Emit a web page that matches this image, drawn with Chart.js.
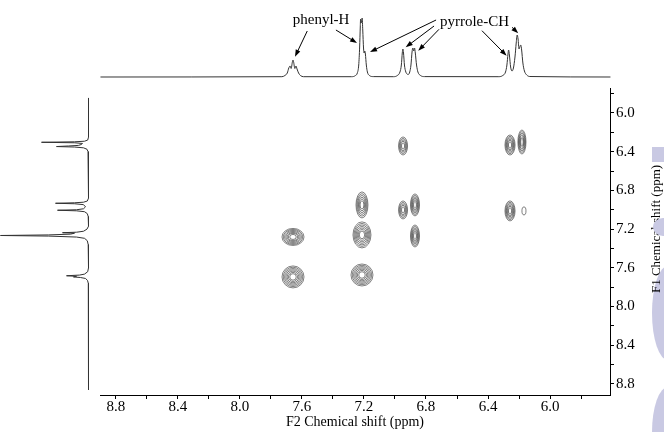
<!DOCTYPE html>
<html>
<head>
<meta charset="utf-8">
<script src="https://cdn.jsdelivr.net/npm/chart.js@4.4.1/dist/chart.umd.min.js"></script>
<style>
  html, body { margin: 0; padding: 0; background: #fff; }
  #wrap { position: relative; width: 664px; height: 432px; overflow: hidden; }
  canvas { position: absolute; left: 0; top: 0; }
</style>
</head>
<body>
<div id="wrap">
  <canvas id="main" width="664" height="432"></canvas>
  <canvas id="left" width="100" height="432"></canvas>
  <canvas id="top" width="664" height="88"></canvas>
</div>
<script>
// axis ticks
const F2_TICKS = [8.8, 8.6, 8.4, 8.2, 8.0, 7.8, 7.6, 7.4, 7.2, 7.0, 6.8, 6.6, 6.4, 6.2, 6.0, 5.8];
const F2_LABELS = ['8.8', '8.4', '8.0', '7.6', '7.2', '6.8', '6.4', '6.0'];
const F1_TICKS = [5.8, 6.0, 6.2, 6.4, 6.6, 6.8, 7.0, 7.2, 7.4, 7.6, 7.8, 8.0, 8.2, 8.4, 8.6, 8.8];
const F1_LABELS = ['6.0', '6.4', '6.8', '7.2', '7.6', '8.0', '8.4', '8.8'];

// top 1D spectrum (F2 ppm, intensity)
const topShift = [8.90, 7.73, 7.71, 7.695, 7.685, 7.677, 7.670, 7.662, 7.658, 7.654, 7.646, 7.639, 7.632, 7.622, 7.61, 7.59,
  7.28, 7.255, 7.243, 7.234, 7.228, 7.224, 7.222, 7.218, 7.215, 7.212, 7.208, 7.203, 7.199, 7.195, 7.191, 7.185, 7.178, 7.165, 7.14,
  7.01, 6.985, 6.968, 6.959, 6.953, 6.949, 6.945, 6.939, 6.930, 6.922, 6.915, 6.905, 6.897, 6.890, 6.885, 6.879, 6.874, 6.869, 6.861, 6.852, 6.835, 6.81,
  6.33, 6.305, 6.287, 6.278, 6.271, 6.267, 6.262, 6.254, 6.245, 6.236, 6.226, 6.218, 6.212, 6.206, 6.200, 6.195, 6.189, 6.183, 6.175, 6.165, 6.15, 6.13, 5.61];
const topInt = [0, 0.3, 1.5, 4, 9, 11, 8.5, 15, 17, 15, 8.5, 11, 8, 4, 1.5, 0.3,
  0.3, 1.5, 4, 12, 30, 50, 58, 54, 55, 59, 47, 29, 24, 26, 23, 12, 5, 1.5, 0.4,
  0.3, 1.5, 5, 12, 24, 28, 24, 12, 5, 3, 2.5, 5, 12, 25, 29, 26, 29, 24, 12, 5, 1.5, 0.4,
  0.3, 1.5, 5, 12, 23, 27, 22, 10, 6, 9, 20, 34, 42, 38, 28, 30, 32, 27, 14, 6, 2, 0.5, 0];

// left 1D spectrum (F1 ppm, intensity)
const leftShift = [5.845, 6.25, 6.28, 6.292, 6.298, 6.303, 6.308, 6.315, 6.325, 6.335, 6.341, 6.347, 6.352, 6.36, 6.375, 6.40, 6.45,
  6.88, 6.91, 6.922, 6.928, 6.933, 6.938, 6.947, 6.97, 6.99, 7.0, 7.005, 7.011, 7.02, 7.04, 7.07,
  7.17, 7.2, 7.222, 7.232, 7.237, 7.242, 7.252, 7.26, 7.266, 7.272, 7.282, 7.295, 7.32, 7.36,
  7.6, 7.64, 7.665, 7.675, 7.682, 7.688, 7.694, 7.700, 7.71, 7.73, 7.76, 8.86];
const leftInt = [0, 0, 0.8, 4, 14, 47, 14, 6, 7, 10, 20, 32, 14, 5, 1.5, 0.5, 0,
  0, 1.2, 5, 14, 33, 14, 5, 3, 5, 12, 31, 12, 4, 1.2, 0.3,
  0, 1.5, 5, 12, 26, 14, 18, 40, 88, 40, 12, 4, 1.2, 0.3,
  0, 0.8, 4, 9, 22, 12, 15, 8, 3, 1, 0.2, 0];

// 2D cross peaks: centre, spread (ppm) and number of contour levels
const peakF2 = [7.658, 7.658, 7.213, 7.213, 7.213, 6.948, 6.948, 6.871, 6.871, 6.258, 6.181, 6.258, 6.168];
const peakF1 = [7.281, 7.694, 6.950, 7.260, 7.674, 6.341, 7.002, 6.950, 7.271, 6.331, 6.300, 7.012, 7.012];
const peakWidthF2 = [0.142, 0.142, 0.077, 0.116, 0.142, 0.058, 0.058, 0.058, 0.058, 0.065, 0.052, 0.065, 0.026];
const peakWidthF1 = [0.176, 0.227, 0.269, 0.269, 0.227, 0.186, 0.186, 0.227, 0.227, 0.207, 0.248, 0.207, 0.083];
const peakLevels = [7, 7, 6, 7, 7, 5, 5, 6, 6, 6, 6, 6, 1];

// labels with arrows, in top-spectrum coordinates (ppm, intensity)
const labelText = ['phenyl-H', 'pyrrole-CH'];
const labelShift = [7.477, 6.487];
const labelInt = [57, 55];
const arrowFrom = [[7.566, 46], [7.381, 47], [6.735, 57], [6.748, 51], [6.716, 47.7], [6.439, 46.3], [6.245, 49.7]];
const arrowTo = [[7.645, 20.3], [7.245, 34], [7.161, 25], [6.931, 29.7], [6.850, 26.3], [6.280, 21.3], [6.205, 43.7]];

const SERIF = "'Liberation Serif', 'DejaVu Serif', serif";
const F2_MIN = 5.613, F2_MAX = 8.903;
const F1_MIN = 5.742, F1_MAX = 8.914;

const contourPlugin = {
    id: 'contours',
    afterDatasetsDraw(chart) {
        const ctx = chart.ctx;
        const xs = chart.scales.x, ys = chart.scales.y;
        const pts = chart.getDatasetMeta(0).data;
        ctx.save();
        ctx.strokeStyle = '#4a4a4a';
        ctx.lineWidth = 0.7;
        pts.forEach((p, i) => {
            const rx = Math.abs(xs.getPixelForValue(peakF2[i] + peakWidthF2[i] / 2) - p.x);
            const ry = Math.abs(ys.getPixelForValue(peakF1[i] + peakWidthF1[i] / 2) - p.y);
            const n = peakLevels[i];
            for (let k = 0; k < n; k++) {
                const f = 1 - k * 0.82 / n;
                ctx.beginPath();
                ctx.ellipse(p.x, p.y, rx * f, ry * f, 0, 0, Math.PI * 2);
                ctx.stroke();
            }
        });
        ctx.restore();
    }
};

// right-hand title and the lavender shapes at the edge
const decoPlugin = {
    id: 'deco',
    beforeDraw(chart) {
        const ctx = chart.ctx;
        ctx.save();
        ctx.fillStyle = '#c9c9e3';
        ctx.fillRect(652, 147, 12, 15);
        ctx.beginPath();
        ctx.ellipse(668, 313, 16, 47, 0, 0, Math.PI * 2);
        ctx.fill();
        ctx.beginPath();
        ctx.ellipse(668, 432, 16, 45, 0, 0, Math.PI * 2);
        ctx.fill();
        ctx.restore();
    },
    afterDraw(chart) {
        const ctx = chart.ctx;
        ctx.save();
        ctx.translate(657, 229);
        ctx.rotate(-Math.PI / 2);
        ctx.fillStyle = '#000';
        ctx.font = '13px ' + SERIF;
        ctx.textAlign = 'center';
        ctx.textBaseline = 'middle';
        ctx.fillText('F1 Chemical shift (ppm)', 0, 0);
        ctx.restore();
        ctx.save();
        ctx.fillStyle = '#c9c9e3';
        ctx.beginPath();
        ctx.ellipse(663, 227, 10, 9, 0, 0, Math.PI * 2);
        ctx.fill();
        ctx.restore();
    }
};

const labelPlugin = {
    id: 'labels',
    afterDraw(chart) {
        const ctx = chart.ctx;
        const xs = chart.scales.x, ys = chart.scales.y;
        ctx.save();
        ctx.fillStyle = '#000';
        ctx.strokeStyle = '#000';
        ctx.lineWidth = 1;
        ctx.font = '15px ' + SERIF;
        ctx.textAlign = 'center';
        ctx.textBaseline = 'middle';
        labelText.forEach((t, i) => {
            ctx.fillText(t, xs.getPixelForValue(labelShift[i]), ys.getPixelForValue(labelInt[i]));
        });
        arrowFrom.forEach((a, i) => {
            const x0 = xs.getPixelForValue(a[0]), y0 = ys.getPixelForValue(a[1]);
            const x1 = xs.getPixelForValue(arrowTo[i][0]), y1 = ys.getPixelForValue(arrowTo[i][1]);
            const ang = Math.atan2(y1 - y0, x1 - x0);
            ctx.beginPath();
            ctx.moveTo(x0, y0);
            ctx.lineTo(x1 - 5 * Math.cos(ang), y1 - 5 * Math.sin(ang));
            ctx.stroke();
            ctx.beginPath();
            ctx.moveTo(x1, y1);
            ctx.lineTo(x1 - 7 * Math.cos(ang) + 2.5 * Math.sin(ang), y1 - 7 * Math.sin(ang) - 2.5 * Math.cos(ang));
            ctx.lineTo(x1 - 7 * Math.cos(ang) - 2.5 * Math.sin(ang), y1 - 7 * Math.sin(ang) + 2.5 * Math.cos(ang));
            ctx.closePath();
            ctx.fill();
        });
        ctx.restore();
    }
};

function axisTicks(list) {
    return scale => { scale.ticks = list.map(v => ({ value: v })); };
}

// main 2D panel
new Chart(document.getElementById('main'), {
    type: 'scatter',
    data: {
        datasets: [{
            data: peakF2.map((x, i) => ({ x: x, y: peakF1[i] })),
            pointRadius: 0,
            pointHoverRadius: 0
        }]
    },
    options: {
        responsive: false,
        animation: false,
        devicePixelRatio: 1,
        layout: { padding: { left: 100, top: 88, right: 0, bottom: 0 } },
        plugins: { legend: { display: false }, tooltip: { enabled: false } },
        scales: {
            x: {
                type: 'linear', position: 'bottom', reverse: true,
                min: F2_MIN, max: F2_MAX,
                afterBuildTicks: axisTicks(F2_TICKS),
                afterFit: s => { s.height = 37; },
                grid: { drawOnChartArea: false, drawTicks: true, tickLength: 4, color: '#000' },
                border: { display: true, color: '#000', width: 1 },
                ticks: {
                    color: '#000', font: { family: SERIF, size: 15, lineHeight: 1 }, padding: 1,
                    maxRotation: 0, autoSkip: false,
                    callback: v => F2_LABELS.includes(v.toFixed(1)) ? v.toFixed(1) : ''
                },
                title: {
                    display: true, text: 'F2 Chemical shift (ppm)', color: '#000',
                    font: { family: SERIF, size: 14, lineHeight: 1.2 }, padding: { top: 0, bottom: 1 }
                }
            },
            y: {
                type: 'linear', position: 'right', reverse: true,
                min: F1_MIN, max: F1_MAX,
                afterBuildTicks: axisTicks(F1_TICKS),
                afterFit: s => { s.width = 54; },
                grid: { drawOnChartArea: false, drawTicks: true, tickLength: 4, color: '#000' },
                border: { display: true, color: '#000', width: 1 },
                ticks: {
                    color: '#000', font: { family: SERIF, size: 15 }, padding: 2,
                    autoSkip: false,
                    callback: v => F1_LABELS.includes(v.toFixed(1)) ? v.toFixed(1) : ''
                }
            }
        }
    },
    plugins: [contourPlugin, decoPlugin]
});

// left projection
new Chart(document.getElementById('left'), {
    type: 'scatter',
    data: {
        datasets: [{
            data: leftShift.map((y, i) => ({ x: leftInt[i], y: y })),
            showLine: true,
            borderColor: '#333',
            borderWidth: 1,
            pointRadius: 0,
            pointHoverRadius: 0,
            clip: 2
        }]
    },
    options: {
        responsive: false,
        animation: false,
        devicePixelRatio: 1,
        layout: { padding: { left: 0, top: 88, right: 11.5, bottom: 37 } },
        plugins: { legend: { display: false }, tooltip: { enabled: false } },
        scales: {
            x: { type: 'linear', display: false, reverse: true, min: 0, max: 88.5 },
            y: { type: 'linear', display: false, reverse: true, min: F1_MIN, max: F1_MAX }
        }
    }
});

// top projection with labels
new Chart(document.getElementById('top'), {
    type: 'line',
    data: {
        datasets: [{
            data: topShift.map((x, i) => ({ x: x, y: topInt[i] })),
            borderColor: '#333',
            borderWidth: 1,
            pointRadius: 0,
            pointHoverRadius: 0,
            cubicInterpolationMode: 'monotone',
            clip: 2
        }]
    },
    options: {
        responsive: false,
        animation: false,
        devicePixelRatio: 1,
        layout: { padding: { left: 100, top: 0, right: 54, bottom: 11 } },
        plugins: { legend: { display: false }, tooltip: { enabled: false } },
        scales: {
            x: { type: 'linear', display: false, reverse: true, min: F2_MIN, max: F2_MAX },
            y: { type: 'linear', display: false, min: 0, max: 77 }
        }
    },
    plugins: [labelPlugin]
});
</script>
</body>
</html>
